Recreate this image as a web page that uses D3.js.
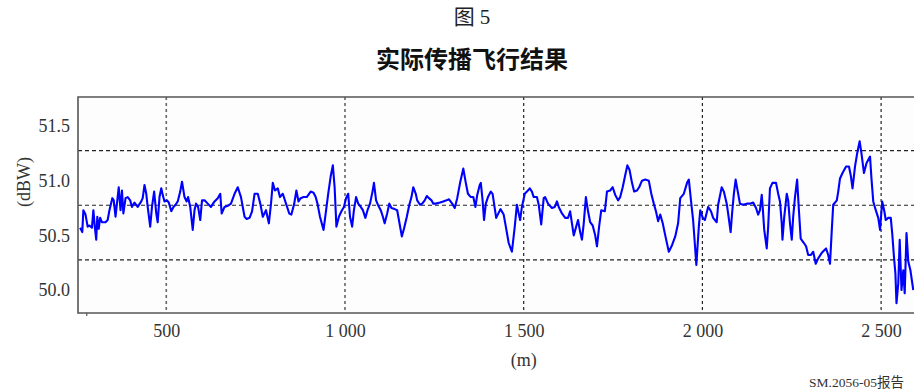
<!DOCTYPE html>
<html>
<head>
<meta charset="utf-8">
<script src="https://cdn.jsdelivr.net/npm/d3@7"></script>
<style>
  html, body { margin: 0; padding: 0; background: #fff; }
  svg { display: block; }
</style>
</head>
<body>
<svg id="chart" width="914" height="389"></svg>
<script>
// Received level along the flight path
const distance = [
  259,265,268,274,280,285,292,296,300,304,307,311,315,320,330,336,341,349,353,358,
  362,367,372,376,380,386,392,399,404,411,420,430,434,439,444,448,455,460,466,472,
  476,481,486,490,495,502,507,514,520,526,532,539,544,551,557,561,567,574,579,583,
  589,595,600,607,616,625,635,644,651,655,663,672,681,691,700,709,719,725,733,740,
  747,756,763,770,779,787,793,798,804,812,818,826,835,
  844,850,858,864,870,876,884,893,904,912,918,923,930,940,946,953,960,966,971,976,
  983,990,997,1003,1009,1014,1020,1025,1031,1037,1044,1050,1057,1063,1070,1077,1081,1087,1092,1100,
  1106,1111,1118,1124,1130,1139,1146,1152,1159,1165,1173,1180,1186,1191,1198,1202,1210,1216,1223,1229,
  1235,1242,1247,1254,1266,1275,1284,1291,1300,1307,1314,1322,1331,1338,1344,1352,1359,1365,1370,1377,
  1380,1385,1389,1394,1400,1408,1413,
  1423,1435,1444,1450,1458,1467,1475,1481,1486,1490,1495,1503,1509,1517,1523,1528,1537,1542,1549,1556,
  1560,1568,1579,1587,1593,1598,1607,1616,1624,1630,1635,1640,1646,1652,1658,1663,1668,1674,1680,1686,
  1693,1700,1705,1711,1717,1727,1733,1742,1749,1756,1764,1770,1777,1784,1790,1796,1803,1809,1817,1823,
  1831,1840,1850,1857,1864,1870,1876,1882,1889,1896,1906,1915,1924,1932,1938,1948,1957,1962,1968,1974,
  1978,1983,1990,1994,
  2001,2007,2016,2024,2030,2040,2044,2054,2060,2068,2072,2079,2083,2088,2093,2099,2105,2114,2124,2133,
  2142,2150,2156,2161,2166,2168,2173,2180,2184,2189,2196,2206,2212,2217,2222,2224,2229,2236,2240,2245,
  2250,2254,2259,2265,2270,2275,2284,2290,2296,2303,2310,2317,2324,2334,2346,2352,2357,2362,2366,2376,
  2380,2385,2392,2402,2410,2415,2420,2427,2433,2440,2445,2452,2459,2469,2473,2478,2485,2492,2497,2503,
  2509,2513,2520,2527,2531,2536,2540,2543,2548,2552,2557,2562,2566,2571,2576,2582,2590
];

const level = [
  50.57,50.53,50.73,50.69,50.58,50.59,50.57,50.73,50.58,50.46,50.67,50.56,50.66,50.62,50.62,50.64,50.73,50.84,50.82,50.67,
  50.79,50.94,50.73,50.91,50.70,50.84,50.85,50.82,50.76,50.80,50.76,50.81,50.84,50.96,50.88,50.76,50.58,50.76,50.90,50.70,
  50.62,50.85,50.93,50.87,50.81,50.82,50.80,50.72,50.76,50.78,50.81,50.90,50.99,50.85,50.81,50.85,50.76,50.55,50.73,50.79,
  50.76,50.64,50.82,50.82,50.79,50.76,50.81,50.84,50.88,50.70,50.76,50.77,50.79,50.88,50.94,50.85,50.67,50.65,50.66,50.72,
  50.88,50.88,50.79,50.67,50.73,50.61,50.79,50.98,50.91,50.93,50.85,50.88,50.79,
  50.70,50.69,50.79,50.91,50.81,50.84,50.85,50.85,50.90,50.89,50.85,50.79,50.67,50.55,50.70,50.88,51.04,51.14,50.94,50.58,
  50.67,50.72,50.76,50.84,50.88,50.67,50.58,50.73,50.85,50.79,50.76,50.73,50.66,50.73,50.79,50.90,50.98,50.82,50.78,50.73,
  50.67,50.61,50.70,50.79,50.75,50.74,50.73,50.62,50.49,50.56,50.67,50.78,50.85,50.94,50.88,50.82,50.78,50.79,50.82,50.86,
  50.84,50.82,50.79,50.79,50.80,50.81,50.82,50.83,50.79,50.75,50.84,50.98,51.11,50.98,50.88,50.85,50.85,50.76,50.87,50.96,
  50.98,50.82,50.64,50.79,50.85,50.90,50.88,
  50.66,50.74,50.69,50.58,50.43,50.35,50.58,50.78,50.70,50.64,50.76,50.88,50.90,50.93,50.90,50.85,50.85,50.78,50.60,50.84,
  50.85,50.79,50.75,50.76,50.81,50.76,50.70,50.66,50.66,50.72,50.61,50.50,50.57,50.64,50.53,50.46,50.61,50.85,50.72,50.62,
  50.59,50.50,50.40,50.58,50.73,50.72,50.90,50.91,50.94,50.87,50.82,50.85,50.94,51.05,51.14,51.10,50.98,50.90,50.91,50.94,
  51.00,51.01,51.00,50.88,50.79,50.72,50.63,50.69,50.61,50.50,50.35,50.41,50.49,50.61,50.84,50.88,50.98,51.01,50.82,50.64,
  50.46,50.23,50.58,50.73,
  50.66,50.64,50.76,50.72,50.66,50.62,50.78,50.94,50.90,50.79,50.70,50.53,50.70,50.88,51.01,50.90,50.79,50.78,50.79,50.79,
  50.80,50.75,50.69,50.73,50.87,50.79,50.55,50.38,50.58,50.93,50.98,50.98,50.88,50.81,50.61,50.46,50.67,50.88,50.82,50.61,
  50.46,50.67,50.85,51.01,50.73,50.47,50.43,50.40,50.32,50.32,50.35,50.24,50.29,50.34,50.38,50.32,50.24,50.55,50.78,50.82,
  50.90,51.02,51.07,51.13,51.13,51.05,50.93,51.13,51.25,51.36,51.25,51.07,51.16,51.22,51.02,50.81,50.73,50.66,50.55,50.81,
  50.72,50.64,50.66,50.66,50.52,50.30,50.15,49.88,50.06,50.46,50.00,50.18,49.97,50.52,50.26,50.18,50.00
];

const xTicks = [500, 1000, 1500, 2000, 2500];
const xTickLabels = ["500", "1 000", "1 500", "2 000", "2 500"];
const xMinorTicks = [276];
const yTicks = [50.0, 50.5, 51.0, 51.5];
const yTickLabels = ["50.0", "50.5", "51.0", "51.5"];
const yGridLevels = [50.275, 50.775, 51.275];

const figureTitle = "图 5";
const chartTitle = "实际传播飞行结果";
const xAxisTitle = "(m)";
const yAxisTitle = "(dBW)";
const sourceNote = "SM.2056-05报告";

const plot = { left: 78, top: 97, right: 914, bottom: 313 };
const serif = "'Liberation Serif', 'Times New Roman', 'Noto Sans CJK SC', serif";

const svg = d3.select("#chart");

const x = d3.scaleLinear().domain([253, 2592]).range([plot.left, plot.right]);
const y = d3.scaleLinear().domain([49.79, 51.765]).range([plot.bottom, plot.top]);

// plot background
svg.append("rect")
  .attr("x", plot.left).attr("y", plot.top)
  .attr("width", plot.right - plot.left + 10).attr("height", plot.bottom - plot.top)
  .attr("fill", "#fdfdfd");

// grid
const grid = svg.append("g").attr("fill", "none");
grid.selectAll("line.v").data(xTicks).join("line")
  .attr("class", "v")
  .attr("x1", d => x(d)).attr("x2", d => x(d))
  .attr("y1", plot.top).attr("y2", plot.bottom)
  .attr("stroke", (d, i) => i < 2 ? "#666" : "#222")
  .attr("stroke-width", (d, i) => i < 2 ? 1.6 : 1.2)
  .attr("stroke-dasharray", "3,3");
grid.selectAll("line.h").data(yGridLevels).join("line")
  .attr("class", "h")
  .attr("x1", plot.left).attr("x2", plot.right)
  .attr("y1", d => y(d)).attr("y2", d => y(d))
  .attr("stroke", "#222")
  .attr("stroke-width", 1.2)
  .attr("stroke-dasharray", "4,3");

// series
const line = d3.line()
  .x(d => x(d[0]))
  .y(d => y(d[1]));
svg.append("path")
  .datum(distance.map((d, i) => [d, level[i]]))
  .attr("d", line)
  .attr("fill", "none")
  .attr("stroke", "#0000ff")
  .attr("stroke-width", 2.1)
  .attr("stroke-linejoin", "round");

// frame
svg.append("path")
  .attr("d", `M${plot.right + 2},${plot.top}H${plot.left}V${plot.bottom}H${plot.right + 2}`)
  .attr("fill", "none")
  .attr("stroke", "#555")
  .attr("stroke-width", 1.6);

// axes
const xAxis = svg.append("g")
  .attr("transform", `translate(0,${plot.bottom})`)
  .call(d3.axisBottom(x).tickValues(xTicks).tickSize(0).tickPadding(11)
    .tickFormat((d, i) => xTickLabels[i]));
xAxis.select(".domain").remove();
xAxis.selectAll("text")
  .attr("font-family", serif).attr("font-size", 18).attr("fill", "#333");

svg.append("g")
  .attr("transform", `translate(0,${plot.bottom})`)
  .call(d3.axisBottom(x).tickValues(xMinorTicks).tickSize(3).tickFormat(""))
  .call(g => g.select(".domain").remove())
  .selectAll("line").attr("stroke", "#555").attr("stroke-width", 1.2);

const yAxis = svg.append("g")
  .attr("transform", `translate(${plot.left},0)`)
  .call(d3.axisLeft(y).tickValues(yTicks).tickSize(0).tickPadding(8)
    .tickFormat((d, i) => yTickLabels[i]));
yAxis.select(".domain").remove();
yAxis.selectAll("text")
  .attr("font-family", serif).attr("font-size", 18).attr("fill", "#333");

// titles
svg.append("text")
  .attr("x", 472).attr("y", 17)
  .attr("text-anchor", "middle").attr("dominant-baseline", "central")
  .attr("font-family", serif).attr("font-size", 21).attr("fill", "#222")
  .text(figureTitle);

svg.append("text")
  .attr("x", 472).attr("y", 57)
  .attr("text-anchor", "middle").attr("dominant-baseline", "central")
  .attr("font-family", "'Noto Sans CJK SC', sans-serif").attr("font-weight", 700)
  .attr("font-size", 24).attr("fill", "#111")
  .text(chartTitle);

svg.append("text")
  .attr("x", 523.7).attr("y", 360)
  .attr("text-anchor", "middle").attr("dominant-baseline", "central")
  .attr("font-family", serif).attr("font-size", 18).attr("fill", "#333")
  .text(xAxisTitle);

svg.append("text")
  .attr("transform", "translate(24,182) rotate(-90)")
  .attr("text-anchor", "middle").attr("dominant-baseline", "central")
  .attr("font-family", serif).attr("font-size", 18).attr("fill", "#333")
  .text(yAxisTitle);

svg.append("text")
  .attr("x", 904).attr("y", 382)
  .attr("text-anchor", "end").attr("dominant-baseline", "central")
  .attr("font-family", serif).attr("font-size", 13.5).attr("fill", "#333")
  .text(sourceNote);
</script>
</body>
</html>
